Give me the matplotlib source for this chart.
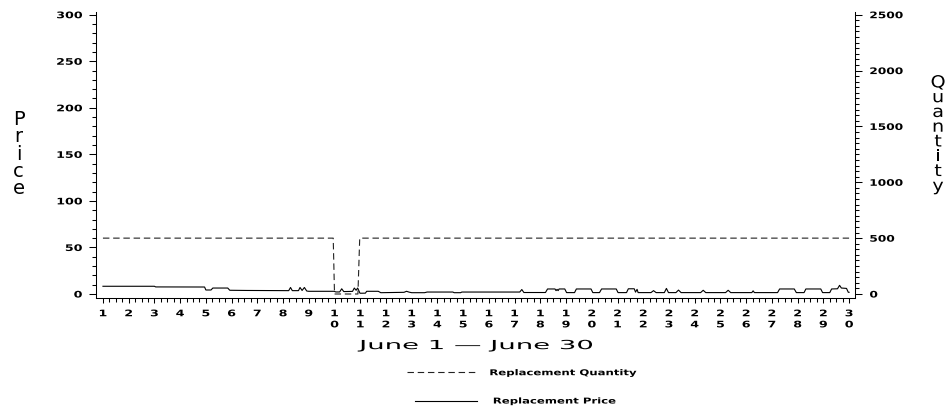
import numpy as np
import matplotlib
matplotlib.use("Agg")
import matplotlib.pyplot as plt
from matplotlib.lines import Line2D
from matplotlib.patheffects import AbstractPathEffect
from matplotlib.ticker import FixedLocator, MultipleLocator
from matplotlib.transforms import Affine2D

# replacement price (day of June, price)
price_day = [1.0, 3.0, 3.05, 4.95, 5.0, 5.2, 5.27, 5.85, 5.93, 6.6, 8.22, 8.29, 8.36, 8.6,
             8.66, 8.74, 8.83, 8.92, 9.0, 9.99, 10.05, 10.2, 10.28, 10.36, 10.7, 10.77,
             10.84, 10.9, 10.99, 11.2, 11.25, 11.7, 11.8, 12.7, 12.8, 12.9, 13.0, 13.5,
             13.6, 14.6, 14.65, 14.9, 14.95, 17.2, 17.28, 17.36, 18.2, 18.28, 18.57, 18.61,
             18.65, 18.69, 18.73, 18.95, 19.02, 19.33, 19.4, 19.97, 20.04, 20.3, 20.38,
             20.95, 21.02, 21.35, 21.42, 21.65, 21.7, 21.76, 21.8, 22.3, 22.4, 22.5, 22.82,
             22.9, 22.98, 23.27, 23.37, 23.47, 24.23, 24.33, 24.43, 25.2, 25.3, 25.4, 26.22,
             26.27, 26.32, 27.22, 27.3, 27.87, 27.95, 28.25, 28.32, 28.9, 28.97, 29.25, 29.32,
             29.55, 29.63, 29.7, 29.9, 29.97, 30.0]
price = [8.3, 8.3, 7.6, 7.5, 4.3, 4.3, 6.4, 6.4, 4.0, 3.8, 3.6, 7.0, 3.6, 3.6,
         7.0, 3.8, 7.0, 3.2, 2.9, 2.9, 2.2, 2.2, 5.6, 2.6, 2.8, 6.4,
         4.0, 6.4, 0.8, 0.9, 2.9, 2.9, 1.4, 1.8, 2.9, 2.0, 1.4, 1.4,
         2.1, 2.1, 1.4, 1.4, 2.1, 2.1, 4.8, 1.6, 1.6, 5.4, 5.4, 3.6,
         5.0, 3.6, 5.4, 5.4, 1.5, 1.5, 5.4, 5.4, 1.5, 1.5, 5.4,
         5.4, 1.5, 1.5, 5.6, 5.6, 2.0, 5.0, 1.5, 1.5, 3.6, 1.5, 1.5,
         6.0, 1.5, 1.5, 4.2, 1.5, 1.5, 4.0, 1.5, 1.5, 4.0, 1.5, 1.5,
         3.4, 1.5, 1.5, 5.4, 5.4, 1.5, 1.5, 5.4, 5.4, 1.5, 1.5, 5.4,
         5.6, 9.3, 6.4, 6.0, 1.8, 1.8]

# replacement quantity
qty_day = [1.0, 9.95, 10.0, 10.91, 10.98, 30.0]
qty = [500, 500, 0, 0, 500, 500]

days = list(range(1, 31))
day_labels = ["\n".join(str(d)) for d in days]
price_ticks = [0, 50, 100, 150, 200, 250, 300]
qty_ticks = [0, 500, 1000, 1500, 2000, 2500]


class Widen(AbstractPathEffect):
    """draw text paths stretched sideways (old SAS plot font look)"""
    def __init__(self, sx, anchor="center"):
        super().__init__()
        self.sx = sx
        self.anchor = anchor

    def draw_path(self, renderer, gc, tpath, affine, rgbFace=None):
        ext = tpath.get_extents()
        x0 = {"left": ext.x0, "right": ext.x1}.get(self.anchor, (ext.x0 + ext.x1) / 2)
        t = Affine2D().translate(-x0, 0).scale(self.sx, 1).translate(x0, 0) + affine
        renderer.draw_path(gc, tpath, t, rgbFace)


DASH = (0, (5.8, 3.4))
TICKFONT = dict(family="DejaVu Sans", weight="bold", size=6.5)

fig = plt.figure(figsize=(9.48, 4.17), dpi=100)
ax = fig.add_axes([96 / 948, 1 - 298 / 417, 759 / 948, 286 / 417])
ax2 = ax.twinx()

ax.plot(price_day, price, color="black", linewidth=0.8)
ax2.plot(qty_day, qty, color="#222222", linewidth=0.8, linestyle=DASH)

ax.set_xlim(0.73, 30.23)
ax.set_ylim(-4.3, 302.9)
ax2.set_ylim(-4.3 * 25 / 3, 302.9 * 25 / 3)

ax.xaxis.set_major_locator(FixedLocator(days))
ax.xaxis.set_minor_locator(FixedLocator(np.arange(1, 30.01, 0.25)))
ax.set_xticklabels(day_labels, fontdict=TICKFONT, linespacing=1.3)
ax.set_yticks(price_ticks)
ax.set_yticklabels([str(v) for v in price_ticks], fontdict=TICKFONT)
ax.yaxis.set_minor_locator(MultipleLocator(10))
ax2.set_yticks(qty_ticks)
ax2.set_yticklabels([str(v) for v in qty_ticks], fontdict=TICKFONT)
ax2.yaxis.set_minor_locator(MultipleLocator(50))

for a in (ax, ax2):
    a.spines["top"].set_visible(False)
    for s in a.spines.values():
        s.set_linewidth(0.75)
ax2.spines["left"].set_visible(False)
ax2.spines["bottom"].set_visible(False)
ax.spines["right"].set_visible(False)

ax.tick_params(axis="y", which="major", length=5, width=0.75, pad=5)
ax.tick_params(axis="y", which="minor", length=3, width=0.75)
ax.tick_params(axis="x", which="major", length=3.6, width=0.75, pad=4.5)
ax.tick_params(axis="x", which="minor", length=2.6, width=0.75)
ax2.tick_params(axis="y", which="major", length=5, width=0.75, pad=5.5)
ax2.tick_params(axis="y", which="minor", length=3, width=0.75)

for lab in ax.get_xticklabels():
    lab.set_path_effects([Widen(1.4, "center")])
for lab in ax.get_yticklabels():
    lab.set_path_effects([Widen(1.4, "right")])
for lab in ax2.get_yticklabels():
    lab.set_path_effects([Widen(1.35, "left")])

xl = ax.set_xlabel("June 1 \u2014 June 30", fontsize=9, labelpad=7)
xl.set_path_effects([Widen(2.2, "center")])

yl = ax.set_ylabel("\n".join("Price"), rotation=0, fontsize=14, linespacing=0.88,
                   ha="center", va="center")
ax.yaxis.set_label_coords(-0.102, 0.503)
y2l = ax2.set_ylabel("\n".join("Quantity"), rotation=0, fontsize=12, linespacing=0.77,
                     ha="center", va="center")
ax2.yaxis.set_label_coords(1.1094, 0.573)
y2l.set_path_effects([Widen(1.15, "center")])

LEGFONT = dict(family="DejaVu Sans", weight="bold", size=5.8)
leg1 = fig.legend([Line2D([], [], color="#222222", linewidth=0.8, linestyle=DASH)],
                  ["Replacement Quantity"], loc="center left",
                  bbox_to_anchor=(407 / 948, 1 - 372.7 / 417), frameon=False,
                  borderpad=0, borderaxespad=0, handlelength=8.4, handletextpad=1.86,
                  prop=LEGFONT)
leg2 = fig.legend([Line2D([], [], color="black", linewidth=0.8)],
                  ["Replacement Price"], loc="center left",
                  bbox_to_anchor=(415 / 948, 1 - 401 / 417), frameon=False,
                  borderpad=0, borderaxespad=0, handlelength=7.7, handletextpad=2.0,
                  prop=LEGFONT)
for lg in (leg1, leg2):
    for t in lg.get_texts():
        t.set_path_effects([Widen(1.45, "left")])

fig.savefig("out.png", dpi=100)
